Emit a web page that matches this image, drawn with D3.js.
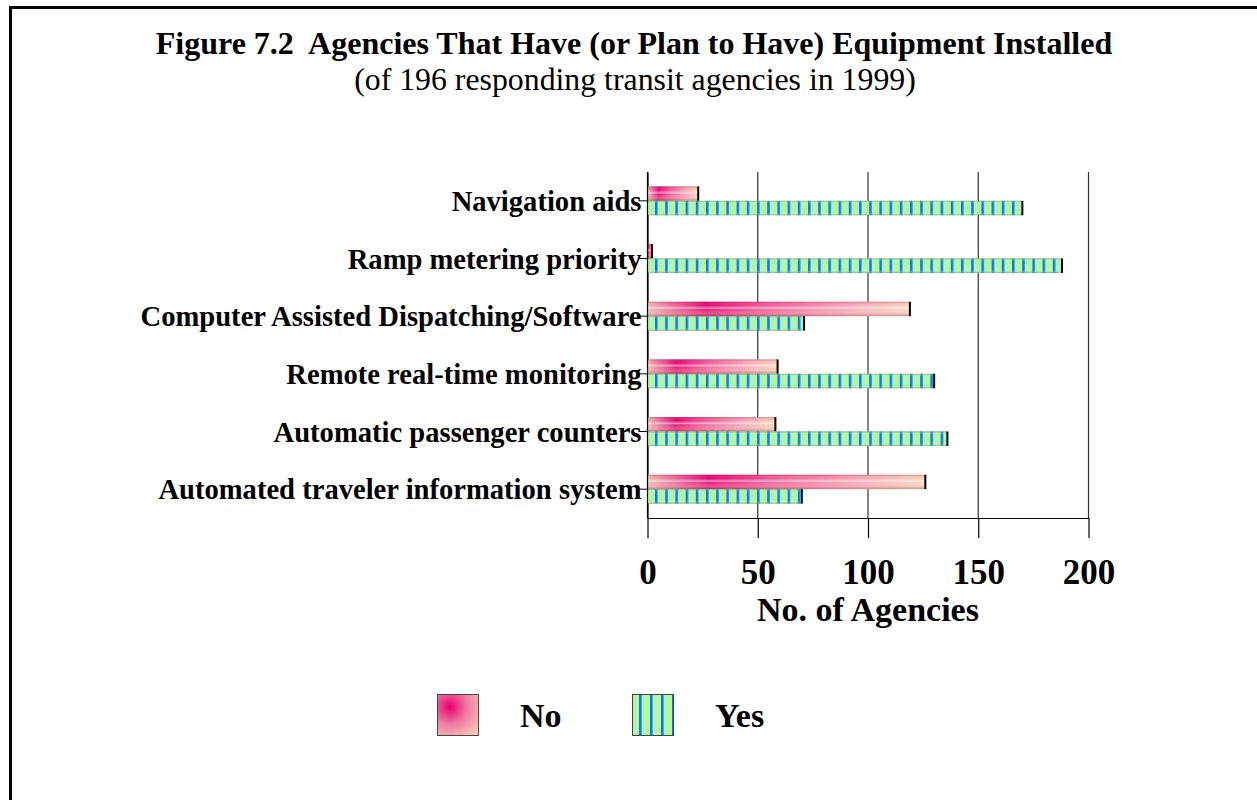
<!DOCTYPE html>
<html>
<head>
<meta charset="utf-8">
<script src="https://cdn.jsdelivr.net/npm/d3@7"></script>
<style>
  html, body { margin: 0; padding: 0; background: #fff; }
  svg { display: block; }
  text { font-family: "Liberation Serif", "Times New Roman", serif; fill: #000; white-space: pre; }
</style>
</head>
<body>
<svg id="chart" width="1257" height="800"></svg>
<script>
const categories = [
  "Navigation aids",
  "Ramp metering priority",
  "Computer Assisted Dispatching/Software",
  "Remote real-time monitoring",
  "Automatic passenger counters",
  "Automated traveler information system"
];
const noValues  = [23, 2, 119, 59, 58, 126];
const yesValues = [170, 188, 71, 130, 136, 70];
const seriesNames = ["No", "Yes"];
const xTicks = [0, 50, 100, 150, 200];
const titleText = "Figure 7.2  Agencies That Have (or Plan to Have) Equipment Installed";
const subtitleText = "(of 196 responding transit agencies in 1999)";
const xAxisTitle = "No. of Agencies";

const svg = d3.select("#chart");
const W = 1257, H = 800;
const plot = { left: 647.5, right: 1088.5, top: 172, bottom: 518 };

const x = d3.scaleLinear().domain([0, 200]).range([plot.left, plot.right]);
const y = d3.scaleBand().domain(categories).range([plot.top, plot.bottom])
  .paddingInner(0.5).paddingOuter(0.25);
const ySub = d3.scaleBand().domain(seriesNames).range([0, y.bandwidth()]);

const defs = svg.append("defs");
const gNo = defs.append("linearGradient").attr("id", "noH").attr("x1", 0).attr("x2", 1).attr("y1", 0).attr("y2", 0);
[[0, "#f2b4b4"], [0.22, "#e4006c"], [0.45, "#ee5894"], [0.75, "#f7a2b4"], [1, "#f6d4b8"]]
  .forEach(([o, c]) => gNo.append("stop").attr("offset", o).attr("stop-color", c));
const gNoV = defs.append("linearGradient").attr("id", "noV").attr("x1", 0).attr("x2", 0).attr("y1", 0).attr("y2", 1);
[[0, "#a00040", 0.35], [0.25, "#ffffff", 0.0], [0.45, "#ffffff", 0.55], [0.55, "#ffffff", 0.1], [0.8, "#f8c0c0", 0.4], [1, "#806060", 0.45]]
  .forEach(([o, c, a]) => gNoV.append("stop").attr("offset", o).attr("stop-color", c).attr("stop-opacity", a));
const gYesV = defs.append("linearGradient").attr("id", "yesV").attr("x1", 0).attr("x2", 0).attr("y1", 0).attr("y2", 1);
[[0, "#3c8c3c", 0.6], [0.18, "#ffffff", 0.0], [0.82, "#ffffff", 0.0], [1, "#3c8c3c", 0.6]]
  .forEach(([o, c, a]) => gYesV.append("stop").attr("offset", o).attr("stop-color", c).attr("stop-opacity", a));
const pat = defs.append("pattern").attr("id", "yesPat").attr("patternUnits", "userSpaceOnUse")
  .attr("x", plot.left + 7.5).attr("y", 0).attr("width", 10.2).attr("height", 10);
pat.append("rect").attr("width", 10.2).attr("height", 10).attr("fill", "#b2f6aa");
pat.append("rect").attr("x", 0).attr("width", 2.5).attr("height", 10).attr("fill", "#0a78ee");
const patL = defs.append("pattern").attr("id", "yesPatL").attr("patternUnits", "userSpaceOnUse")
  .attr("x", 639).attr("y", 0).attr("width", 11).attr("height", 10);
patL.append("rect").attr("width", 11).attr("height", 10).attr("fill", "#b2f6aa");
patL.append("rect").attr("x", 0).attr("width", 2.6).attr("height", 10).attr("fill", "#0a78ee");
const rg = defs.append("radialGradient").attr("id", "noLeg").attr("cx", 0.3).attr("cy", 0.3).attr("r", 0.95);
[[0, "#e8006c"], [0.45, "#f07aa4"], [1, "#f8d4b8"]]
  .forEach(([o, c]) => rg.append("stop").attr("offset", o).attr("stop-color", c));

// frame
svg.append("line").attr("x1", 9).attr("x2", W).attr("y1", 7.5).attr("y2", 7.5).attr("stroke", "#000").attr("stroke-width", 3);
svg.append("line").attr("x1", 10.5).attr("x2", 10.5).attr("y1", 6).attr("y2", H).attr("stroke", "#000").attr("stroke-width", 3);

// title
svg.append("text").attr("x", 634).attr("y", 54).attr("text-anchor", "middle")
  .attr("font-size", 32).attr("font-weight", "bold").text(titleText);
svg.append("text").attr("x", 635).attr("y", 90).attr("text-anchor", "middle")
  .attr("font-size", 31.8).text(subtitleText);

// gridlines
svg.append("g").selectAll("line").data(xTicks.filter(d => d > 0)).join("line")
  .attr("x1", d => x(d)).attr("x2", d => x(d)).attr("y1", plot.top).attr("y2", plot.bottom)
  .attr("stroke", "#333").attr("stroke-width", 1.2);

// x axis
const xAxis = svg.append("g").attr("transform", `translate(0,${plot.bottom})`)
  .call(d3.axisBottom(x).tickValues(xTicks).tickSize(20).tickPadding(21).tickSizeOuter(0));
xAxis.select(".domain").attr("stroke", "#000").attr("stroke-width", 1.2);
xAxis.selectAll(".tick line").attr("stroke", "#000").attr("stroke-width", 1.2);
xAxis.selectAll(".tick text").attr("font-family", "Liberation Serif, Times New Roman, serif")
  .attr("font-size", 35).attr("font-weight", "bold").attr("fill", "#000").attr("dy", "0.71em");

svg.append("text").attr("x", 868).attr("y", 621).attr("text-anchor", "middle")
  .attr("font-size", 34).attr("font-weight", "bold").text(xAxisTitle);

// y axis
const yAxis = svg.append("g").attr("transform", `translate(${plot.left},0)`)
  .call(d3.axisLeft(y).tickSize(9).tickPadding(-3).tickSizeOuter(0));
yAxis.select(".domain").attr("stroke", "#000").attr("stroke-width", 1.2);
yAxis.selectAll(".tick line").attr("stroke", "#000").attr("stroke-width", 1);
yAxis.selectAll(".tick text").attr("font-family", "Liberation Serif, Times New Roman, serif")
  .attr("font-size", 28.6).attr("font-weight", "bold").attr("fill", "#000").attr("dy", "0.36em");

// bars
const groups = svg.append("g").selectAll("g").data(categories).join("g")
  .attr("transform", d => `translate(0,${y(d)})`);
groups.each(function(d, i) {
  const g = d3.select(this);
  const h = ySub.bandwidth();
  g.append("rect").attr("x", plot.left).attr("y", ySub("No")).attr("width", x(noValues[i]) - plot.left).attr("height", h).attr("fill", "url(#noH)");
  g.append("rect").attr("x", plot.left).attr("y", ySub("No")).attr("width", x(noValues[i]) - plot.left).attr("height", h).attr("fill", "url(#noV)");
  g.append("line").attr("x1", x(noValues[i])).attr("x2", x(noValues[i])).attr("y1", ySub("No")).attr("y2", ySub("No") + h).attr("stroke", "#000").attr("stroke-width", 2);
  g.append("rect").attr("x", plot.left).attr("y", ySub("Yes")).attr("width", x(yesValues[i]) - plot.left).attr("height", h).attr("fill", "url(#yesPat)");
  g.append("rect").attr("x", plot.left).attr("y", ySub("Yes")).attr("width", x(yesValues[i]) - plot.left).attr("height", h).attr("fill", "url(#yesV)");
  g.append("line").attr("x1", x(yesValues[i])).attr("x2", x(yesValues[i])).attr("y1", ySub("Yes")).attr("y2", ySub("Yes") + h).attr("stroke", "#000").attr("stroke-width", 2);
});
svg.append("line").attr("x1", plot.left).attr("x2", plot.left).attr("y1", plot.top).attr("y2", plot.bottom)
  .attr("stroke", "#000").attr("stroke-width", 1.2);

// legend
const legend = svg.append("g");
legend.append("rect").attr("x", 437.5).attr("y", 694.5).attr("width", 41).attr("height", 41)
  .attr("fill", "url(#noLeg)").attr("stroke", "#444").attr("stroke-width", 1);
legend.append("text").attr("x", 520).attr("y", 727).attr("font-size", 34).attr("font-weight", "bold").text(seriesNames[0]);
legend.append("rect").attr("x", 632.5).attr("y", 694.5).attr("width", 41).attr("height", 41)
  .attr("fill", "url(#yesPatL)").attr("stroke", "#444").attr("stroke-width", 1);
legend.append("text").attr("x", 715).attr("y", 727).attr("font-size", 34).attr("font-weight", "bold").text(seriesNames[1]);
</script>
</body>
</html>
